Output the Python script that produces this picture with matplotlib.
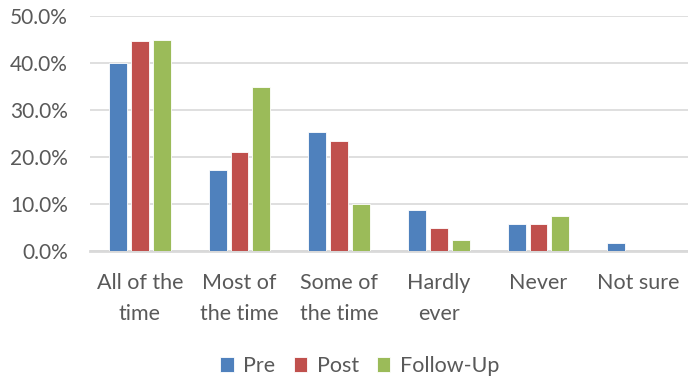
import matplotlib.pyplot as plt
import numpy as np
from matplotlib.ticker import FuncFormatter

categories = ["All of the\ntime", "Most of\nthe time", "Some of\nthe time",
              "Hardly\never", "Never", "Not sure"]
pre = [39.9, 17.2, 25.4, 8.8, 5.8, 1.8]
post = [44.6, 21.1, 23.3, 4.9, 5.8, 0]
follow_up = [45.0, 34.8, 10.0, 2.3, 7.5, 0]
series_names = ["Pre", "Post", "Follow-Up"]
colors = ["#4F81BD", "#C0504D", "#9BBB59"]


def format_ticks(value, _):
    """
    Format the y ticks as percentages
    """
    return f"{value:.1f}%"


def main():
    plt.rcParams["font.family"] = ["Lato", "DejaVu Sans"]
    fig = plt.figure(figsize=(6.88, 3.83), dpi=100)
    ax = fig.add_axes([90 / 688, 1 - 251 / 383, 598 / 688, 235 / 383])

    x = np.arange(len(categories))
    width = 0.18
    step = 0.22
    for i, (values, name, color) in enumerate(
            zip([pre, post, follow_up], series_names, colors)):
        ax.bar(x + (i - 1) * step, values, width, label=name, color=color,
               edgecolor="white", linewidth=0.6, zorder=3)

    ax.set_xlim(-0.5, len(categories) - 0.5)
    ax.set_ylim(0, 50)
    ax.set_yticks(range(0, 51, 10))
    ax.yaxis.set_major_formatter(FuncFormatter(format_ticks))
    ax.set_xticks(x)
    ax.set_xticklabels(categories, linespacing=1.7)
    ax.tick_params(axis="both", length=0, colors="#595959")
    ax.tick_params(axis="x", pad=16, labelsize=15.5)
    ax.tick_params(axis="y", pad=16, labelsize=15)

    ax.grid(axis="y", color="#D9D9D9", linewidth=1.2, zorder=0)
    for side in ["top", "right", "left"]:
        ax.spines[side].set_visible(False)
    ax.spines["bottom"].set_color("#D9D9D9")
    ax.spines["bottom"].set_linewidth(2)

    fig.legend(loc="center", bbox_to_anchor=(0.523, 1 - 366 / 383), ncol=3,
               frameon=False, fontsize=15.5, handlelength=0.62,
               handleheight=0.65, handletextpad=0.45, columnspacing=0.85,
               labelcolor="#595959")
    fig.savefig("out.png", dpi=100)


if __name__ == "__main__":
    main()
